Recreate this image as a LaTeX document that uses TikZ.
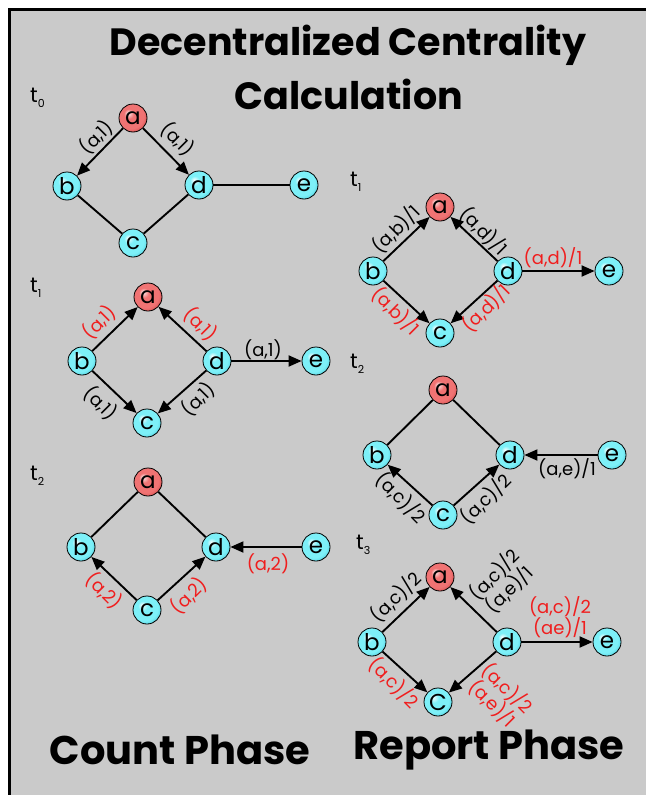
\documentclass[tikz,border=0pt]{standalone}
\usepackage{fontspec}
\setmainfont{Poppins}
\usetikzlibrary{arrows.meta,shadings}
\definecolor{bg}{RGB}{202,202,202}
\definecolor{cyw}{RGB}{250,255,255}
\definecolor{cyl}{RGB}{125,240,248}
\definecolor{cyd}{RGB}{50,185,205}
\definecolor{rdw}{RGB}{255,240,240}
\definecolor{rdl}{RGB}{240,115,115}
\definecolor{rdd}{RGB}{195,50,50}
\definecolor{lred}{RGB}{240,30,30}
\pgfdeclareradialshading{cyball}{\pgfpoint{-9bp}{9bp}}{color(0bp)=(cyw); color(9bp)=(cyl); color(24bp)=(cyl); color(36bp)=(cyd); color(50bp)=(cyd)}
\pgfdeclareradialshading{rdball}{\pgfpoint{-9bp}{9bp}}{color(0bp)=(rdw); color(9bp)=(rdl); color(24bp)=(rdl); color(36bp)=(rdd); color(50bp)=(rdd)}
\tikzset{
  nd/.style={circle, draw=black, line width=0.8pt, shading=cyball, minimum size=28pt, inner sep=0pt, font=\fontsize{23}{23}\selectfont},
  rn/.style={nd, shading=rdball},
  ar/.style={line width=1.9pt, -{Triangle[length=13pt,width=11pt]}},
  ln/.style={line width=1.9pt},
  lb/.style={font=\fontsize{18}{20}\selectfont, inner sep=0pt, align=center},
  rl/.style={lb, text=lred},
  tl/.style={font=\fontsize{21}{21}\selectfont, inner sep=0pt, anchor=west},
  big/.style={font=\fontsize{38}{38}\selectfont\bfseries, inner sep=0pt},
  bigb/.style={font=\fontsize{40}{40}\selectfont\bfseries, inner sep=0pt},
}
\newcommand{\tsub}[1]{t\raisebox{-5pt}{\fontsize{11}{11}\selectfont #1}}
\begin{document}
\begin{tikzpicture}[x=1pt,y=-1pt]
\useasboundingbox (0,0) rectangle (646,795);
\fill[bg] (8,8) rectangle (646,795);
\draw[line width=3pt] (9.5,795) -- (9.5,9.5) -- (646,9.5);
% title
\node[big] (title1) at (348,45) {Decentralized Centrality};
\node[big] (title2) at (349,94) {Calculation};
\node[bigb] (count) at (180,750) {Count Phase};
\node[bigb] (report) at (489,750) {Report Phase};
% ---------- left t0
\node[tl] (t0) at (30,98) {\tsub{0}};
\node[rn] (a1) at (133,118) {a};
\node[nd] (b1) at (67,186) {b};
\node[nd] (d1) at (199,185) {d};
\node[nd] (c1) at (133,243) {c};
\node[nd] (e1) at (304,185) {e};
\draw[ar] (a1) -- (b1);
\draw[ar] (a1) -- (d1);
\draw[ln] (b1) -- (c1);
\draw[ln] (c1) -- (d1);
\draw[ln] (d1) -- (e1);
\node[lb, rotate=45] (l11) at (96,137) {(a,1)};
\node[lb, rotate=-45] (l12) at (178,139) {(a,1)};
% ---------- left t1
\node[tl] (t1l) at (30,288) {\tsub{1}};
\node[rn] (a2) at (148,297) {a};
\node[nd] (b2) at (82,361) {b};
\node[nd] (d2) at (217,361) {d};
\node[nd] (c2) at (147,423) {c};
\node[nd] (e2) at (316,361) {e};
\draw[ar] (b2) -- (a2);
\draw[ar] (d2) -- (a2);
\draw[ar] (b2) -- (c2);
\draw[ar] (d2) -- (c2);
\draw[ar] (d2) -- (e2);
\node[rl, rotate=45] (l21) at (99,322) {(a,1)};
\node[rl, rotate=-45] (l22) at (201,324) {(a,1)};
\node[lb, rotate=-45] (l23) at (101,403) {(a,1)};
\node[lb, rotate=45] (l24) at (198,399) {(a,1)};
\node[lb] (l25) at (263,350) {(a,1)};
% ---------- left t2
\node[tl] (t2l) at (30,476) {\tsub{2}};
\node[rn] (a3) at (148,482) {a};
\node[nd] (b3) at (81,547) {b};
\node[nd] (d3) at (216,547) {d};
\node[nd] (c3) at (147,610) {c};
\node[nd] (e3) at (316,547) {e};
\draw[ln] (a3) -- (b3);
\draw[ln] (a3) -- (d3);
\draw[ar] (c3) -- (b3);
\draw[ar] (c3) -- (d3);
\draw[ar] (e3) -- (d3);
\node[rl, rotate=-45] (l31) at (104,591) {(a,2)};
\node[rl, rotate=45] (l32) at (189,596) {(a,2)};
\node[rl] (l33) at (268,564) {(a,2)};
% ---------- right t1
\node[tl] (t1r) at (350,182) {\tsub{1}};
\node[rn] (a4) at (440,207) {a};
\node[nd] (b4) at (373,271) {b};
\node[nd] (d4) at (508,271) {d};
\node[nd] (c4) at (440,333) {c};
\node[nd] (e4) at (609,271) {e};
\draw[ar] (b4) -- (a4);
\draw[ar] (d4) -- (a4);
\draw[ar] (b4) -- (c4);
\draw[ar] (d4) -- (c4);
\draw[ar] (d4) -- (e4);
\node[lb, rotate=45] (l41) at (396,229) {(a,b)/1};
\node[lb, rotate=-45] (l42) at (484,231) {(a,d)/1};
\node[rl, rotate=-45] (l43) at (396,311) {(a,b)/1};
\node[rl, rotate=45] (l44) at (486,308) {(a,d)/1};
\node[rl] (l45) at (553,258) {(a,d)/1};
% ---------- right t2
\node[tl] (t2r) at (350,364) {\tsub{2}};
\node[rn] (a5) at (443,390) {a};
\node[nd] (b5) at (377,455) {b};
\node[nd] (d5) at (510,455) {d};
\node[nd] (c5) at (443,515) {c};
\node[nd] (e5) at (612,455) {e};
\draw[ln] (a5) -- (b5);
\draw[ln] (a5) -- (d5);
\draw[ar] (c5) -- (b5);
\draw[ar] (c5) -- (d5);
\draw[ar] (e5) -- (d5);
\node[lb, rotate=-45] (l51) at (401,498) {(a,c)/2};
\node[lb, rotate=45] (l52) at (486,499) {(a,c)/2};
\node[lb] (l53) at (567,469) {(a,e)/1};
% ---------- right t3
\node[tl] (t3r) at (356,545) {\tsub{3}};
\node[rn] (a6) at (440,577) {a};
\node[nd] (b6) at (372,642) {b};
\node[nd] (d6) at (507,642) {d};
\node[nd] (c6) at (438,702) {C};
\node[nd] (e6) at (607,642) {e};
\draw[ar] (b6) -- (a6);
\draw[ar] (d6) -- (a6);
\draw[ar] (b6) -- (c6);
\draw[ar] (d6) -- (c6);
\draw[ar] (d6) -- (e6);
\node[lb, rotate=45] (l61) at (396,597) {(a,c)/2};
\node[lb, rotate=45] (l62) at (502,582) {(a,c)/2\\(a,e)/1};
\node[rl] (l63) at (560,617) {(a,c)/2\\(ae)/1};
\node[rl, rotate=-45] (l64) at (394,683) {(a,c)/2};
\node[rl, rotate=-45] (l65) at (500,696) {(a,c)/2\\(a,e)/1};
\end{tikzpicture}
\end{document}
